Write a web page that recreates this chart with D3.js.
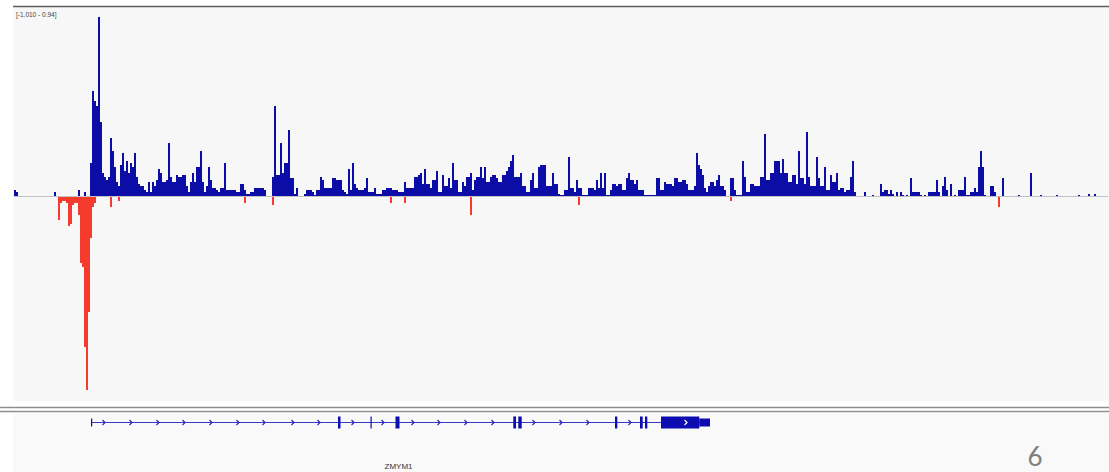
<!DOCTYPE html>
<html>
<head>
<meta charset="utf-8">
<script src="https://cdn.jsdelivr.net/npm/d3@7"></script>
<style>
  html, body { margin: 0; padding: 0; background: #ffffff; }
  svg { display: block; }
</style>
</head>
<body>
<svg id="chart" width="1109" height="472"></svg>
<script>
// ---- Track data -------------------------------------------------------
// Data range of the signal track and its label
const dataRange = [-1.010, 0.94];
const rangeLabel = "[-1.010 - 0.94]";

// Visible window, in kb from the window start, and the bin size of the signal
const windowKb = [0, 109.4];
const binKb = 0.2;

// Plus-strand signal, one value per 0.2 kb bin across the window
const signal = [
  .03,.02,0,0,0,0,0,0,0,0,        0,0,0,0,0,0,0,0,0,0,
  .02,0,0,0,0,0,0,0,0,0,          0,0,.03,0,0,.02,0,0,.17,.54,
  .49,.46,.92,.38,.12,.10,.08,.10,.30,.23,   .15,.07,.05,.16,.22,.13,.18,.12,.17,.15,
  .22,.10,.06,.05,.05,.03,.02,.07,.02,.07,   .05,.08,.14,.12,.07,.07,.08,.27,.10,.07,
  .07,.11,.10,.10,.11,.11,.05,.02,.07,.12,   .07,.15,.15,.23,.07,.02,.05,.15,.08,.04,
  .04,.03,.02,.04,.04,.17,.03,.03,.03,.03,   .03,.02,.02,.06,.06,.03,.01,.01,.02,.02,
  .04,.04,.04,.04,.04,.03,0,0,0,.10,         .46,.11,.11,.27,.12,.17,.17,.34,.09,.09,
  .01,.04,0,0,0,.01,.03,.03,.03,.02,         .005,.03,.03,.10,.08,.04,.04,.04,.04,.09,
  .09,.08,.08,.08,.03,.02,.01,.14,.03,.17,   .06,.04,.03,.03,.03,.04,.09,.02,.02,.02,
  .04,.01,.01,.01,.03,.03,.04,.04,.04,.03,   .03,.03,.02,.02,.02,.07,.04,.04,.04,.04,
  .10,.10,.11,.12,.06,.14,.06,.06,.04,.08,   .08,.13,.02,.02,.11,.05,.05,.09,.04,.17,
  .08,.08,.02,.02,.07,.05,.10,.10,.12,.03,   .08,.10,.10,.15,.09,.15,.07,.07,.10,.11,
  .11,.09,.07,.07,.11,.11,.13,.15,.18,.21,   .10,.10,.10,.12,.05,.05,.02,.02,.08,.12,
  .04,.04,.15,.16,.16,.16,.05,.05,.05,.12,   .06,.06,.01,.005,.005,.03,.03,.20,.04,.04,
  .02,.08,.04,.04,.005,.005,.005,.04,.04,.04, .03,.08,.04,.12,.04,.12,.005,.005,.03,.06,
  .06,.05,.06,.06,.03,.03,.09,.12,.08,.08,   .06,.08,.03,.03,.03,.005,.005,.005,.005,.005,
  .005,.09,.09,.03,.03,.07,.06,.06,.06,.05,  .09,.09,.07,.07,.08,.08,.06,.03,.03,.03,
  .05,.22,.16,.14,.11,.04,.02,.05,.07,.07,   .05,.08,.11,.05,.05,.03,0,0,.09,.09,
  .03,.005,.005,.005,.18,.10,.02,.02,.06,.06, .05,.05,.05,.10,.10,.32,.08,.08,.12,.12,
  .18,.18,.18,.12,.19,.12,.12,.07,.07,.11,   .11,.06,.23,.09,.09,.06,.33,.10,.05,.05,
  .05,.20,.09,.05,.05,.15,.03,.03,.11,.07,   .07,.12,.03,.04,.04,.02,.03,.03,.10,.18,
  .02,0,0,0,0,.02,0,0,0,.005,                0,0,0,.06,.02,.03,.03,.01,.03,.01,
  0,.02,0,.02,.005,0,.005,0,.09,.02,         .02,.02,.02,.005,0,.005,0,.02,.02,.02,
  .02,.08,.02,0,.05,.10,.03,0,.06,0,         .005,0,.03,.03,.03,.10,.005,.005,.02,.02,
  .04,.02,.15,.23,.15,.005,0,0,.05,.05,      .02,0,0,0,.09,0,0,0,0,0,
  0,0,.005,0,0,0,0,0,.12,0,                  0,0,0,.005,0,0,0,0,0,0,
  0,.005,0,0,0,0,0,0,0,0,                    0,0,.005,0,0,0,0,.01,0,0,
  .01,0,0,0,0,0,0
];

// Minus-strand signal: bin index and (negative) value
const minusBins   = [22, 23, 24, 25, 26, 27, 28, 29, 30, 31, 32, 33, 34, 35, 36, 37, 38, 39, 40,
                     48, 52, 115, 129, 188, 195, 228, 282, 358, 492];
const minusValues = [-.12, -.03, -.02, -.02, -.03, -.15, -.14, -.04, -.03, -.03, -.09, -.34, -.36, -.77, -.99, -.59, -.21, -.05, -.03,
                     -.05, -.02, -.03, -.04, -.03, -.03, -.09, -.04, -.02, -.05];

// Gene model (kb from window start)
const geneName = "ZMYM1";
const geneSpanKb = [7.7, 69.6];
const exonStartKb = [7.7, 32.4, 35.65, 38.15, 49.93, 50.43, 60.1, 62.6, 63.1, 64.7, 68.53];
const exonEndKb   = [7.8, 32.65, 35.75, 38.55, 50.2, 50.77, 60.33, 62.87, 63.33, 68.53, 69.6];
const exonCoding  = [false, true, true, true, true, true, true, true, true, true, false];
const strandArrowKb = [9.0, 11.7, 14.4, 17.0, 19.7, 22.4, 25.0, 27.9, 30.5, 33.9, 36.9, 39.9,
                       42.5, 45.2, 47.9, 52.0, 54.7, 57.4, 61.6, 67.2];

const pageNumber = "6";

// ---- Layout ------------------------------------------------------------
const svg = d3.select("#chart");
const panelLeft = 13, panelRight = 1109;
const plotTop = 13, plotBottom = 392.6;
const geneY = 422.5;

const blue = "#0c0ca6";
const red = "#f53a2e";

const x = d3.scaleLinear().domain(windowKb).range([14, 1108]);
const y = d3.scaleLinear().domain(dataRange).range([plotBottom, plotTop]);

// Backgrounds and frame lines
svg.append("rect").attr("x", panelLeft).attr("y", 7).attr("width", panelRight - panelLeft).attr("height", 394)
  .attr("fill", "#f7f7f8");
svg.append("rect").attr("x", panelLeft).attr("y", 413).attr("width", panelRight - panelLeft).attr("height", 59)
  .attr("fill", "#f9f9f9");
svg.append("line").attr("x1", panelLeft).attr("x2", panelRight).attr("y1", 6.5).attr("y2", 6.5)
  .attr("stroke", "#5c5c5c").attr("stroke-width", 1.5);
[407.5, 411.5].forEach(yy => {
  svg.append("line").attr("x1", 0).attr("x2", panelRight).attr("y1", yy).attr("y2", yy)
    .attr("stroke", "#8e8e8e").attr("stroke-width", 1.5);
});

// Zero line
svg.append("line").attr("x1", x(windowKb[0])).attr("x2", x(windowKb[1]))
  .attr("y1", y(0) + 0.5).attr("y2", y(0) + 0.5)
  .attr("stroke", "#c2c2c6").attr("stroke-width", 1);

// Plus-strand bars
svg.append("g").attr("shape-rendering", "crispEdges")
  .selectAll("rect")
  .data(signal.map((v, i) => ({ v, i })).filter(d => d.v > 0))
  .join("rect")
  .attr("x", d => x(d.i * binKb))
  .attr("width", d => x((d.i + 1) * binKb) - x(d.i * binKb))
  .attr("y", d => y(d.v))
  .attr("height", d => Math.max(1, y(0) - y(d.v)))
  .attr("fill", blue);

// Minus-strand bars
svg.append("g").attr("shape-rendering", "crispEdges")
  .selectAll("rect")
  .data(minusBins.map((b, j) => ({ i: b, v: minusValues[j] })))
  .join("rect")
  .attr("x", d => x(d.i * binKb))
  .attr("width", d => x((d.i + 1) * binKb) - x(d.i * binKb))
  .attr("y", y(0) + 1)
  .attr("height", d => y(d.v) - y(0))
  .attr("fill", red);

// Data range label
svg.append("text").attr("x", 16).attr("y", 16.5)
  .attr("font-family", "Liberation Sans, Arial, sans-serif").attr("font-size", 6.5)
  .attr("fill", "#444").text(rangeLabel);

// Gene model
const gene = svg.append("g");
gene.append("line")
  .attr("x1", x(geneSpanKb[0])).attr("x2", x(geneSpanKb[1]))
  .attr("y1", geneY).attr("y2", geneY)
  .attr("stroke", "#3a3ac4").attr("stroke-width", 1);

gene.selectAll("rect.exon")
  .data(exonStartKb.map((s, j) => ({ s, e: exonEndKb[j], coding: exonCoding[j] })))
  .join("rect")
  .attr("class", "exon")
  .attr("x", d => x(d.s))
  .attr("width", d => Math.max(1.2, x(d.e) - x(d.s)))
  .attr("y", d => d.coding ? geneY - 6 : geneY - 4)
  .attr("height", d => d.coding ? 12 : 8)
  .attr("fill", "#0c0cb0");

// strand arrows, white where they sit on a coding block
gene.selectAll("path.arrow")
  .data(strandArrowKb)
  .join("path")
  .attr("class", "arrow")
  .attr("d", k => `M${x(k) - 1.5},${geneY - 2.5} L${x(k) + 1},${geneY} L${x(k) - 1.5},${geneY + 2.5}`)
  .attr("fill", "none")
  .attr("stroke", (k) => {
    const inside = exonStartKb.some((s, j) => exonCoding[j] && k >= s && k <= exonEndKb[j]);
    return inside ? "#ffffff" : "#2a2ab8";
  })
  .attr("stroke-width", 1.2);

gene.append("text")
  .attr("x", x((geneSpanKb[0] + geneSpanKb[1]) / 2) - 2)
  .attr("y", 469)
  .attr("text-anchor", "middle")
  .attr("font-family", "Liberation Sans, Arial, sans-serif").attr("font-size", 8)
  .attr("fill", "#333").text(geneName);

// Page number
svg.append("text").attr("x", 1035).attr("y", 466).attr("text-anchor", "middle")
  .attr("font-family", "Lato, sans-serif").attr("font-size", 26)
  .attr("fill", "#7f7f7f").text(pageNumber);
</script>
</body>
</html>
